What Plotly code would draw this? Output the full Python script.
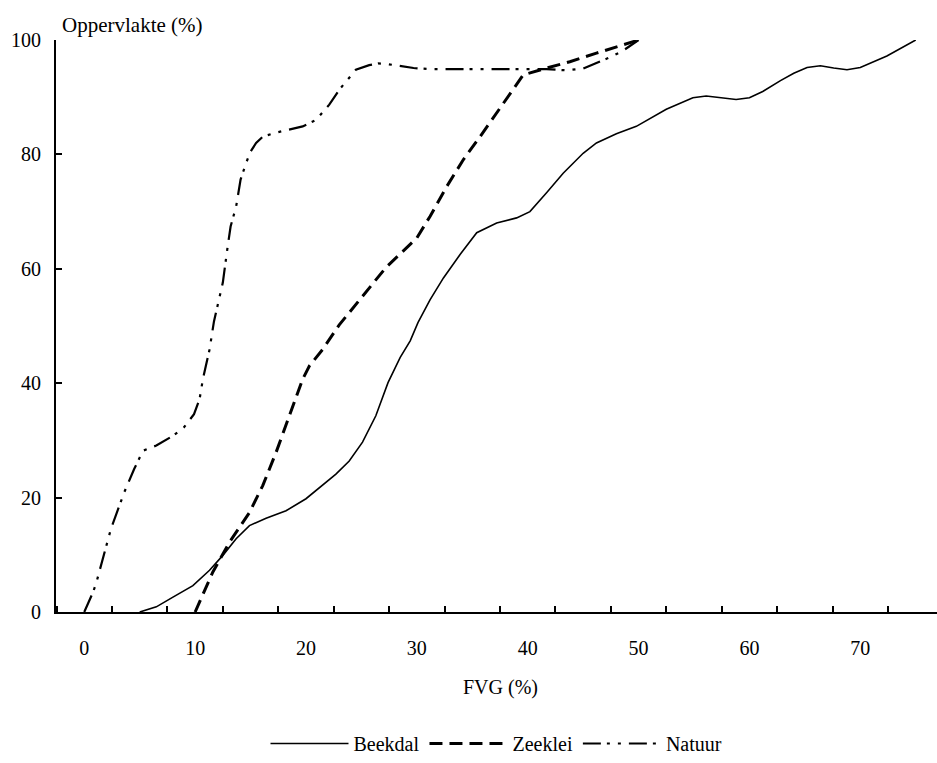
import plotly.graph_objects as go

# Cumulative surface share (%) against FVG (%) for three landscape types
beekdal_x = [5.0, 6.5, 8.0, 9.8, 11.3, 12.5, 13.7, 14.9, 16.4, 18.2, 20.0, 21.5, 22.7, 23.9,
             25.1, 26.3, 27.4, 28.5, 29.4, 30.1, 31.2, 32.4, 33.9, 35.4, 37.2, 39.0, 40.2,
             41.7, 43.2, 45.0, 46.2, 48.0, 49.8, 52.5, 54.9, 56.1, 58.8, 60.0, 61.2, 62.8,
             64.0, 65.2, 66.4, 67.6, 68.8, 70.0, 72.4, 75.0]
beekdal_y = [0.0, 0.9, 2.6, 4.6, 7.3, 9.9, 12.8, 15.1, 16.4, 17.7, 19.8, 22.1, 24.1, 26.4,
             29.7, 34.3, 40.1, 44.5, 47.4, 50.6, 54.6, 58.4, 62.5, 66.3, 68.0, 68.9, 70.0,
             73.3, 76.7, 80.2, 82.0, 83.6, 84.9, 87.9, 89.9, 90.2, 89.6, 89.9, 91.0, 92.9,
             94.2, 95.2, 95.5, 95.1, 94.8, 95.2, 97.2, 100.0]

zeeklei_x = [10.0, 11.6, 13.1, 14.9, 16.1, 17.3, 18.5, 19.7, 20.3, 21.5, 23.0, 25.1, 27.2,
             30.0, 31.2, 32.7, 34.2, 35.7, 37.2, 38.4, 39.6, 41.7, 43.8, 46.2, 50.0]
zeeklei_y = [0.0, 7.0, 12.2, 17.4, 22.1, 27.9, 34.3, 40.7, 43.0, 45.9, 50.2, 55.2, 60.2,
             65.4, 69.2, 74.4, 79.1, 83.1, 87.2, 90.4, 93.9, 95.1, 96.2, 97.7, 100.0]

natuur_x = [0.0, 0.8, 1.1, 2.0, 2.4, 3.6, 4.5, 5.3, 6.5, 8.0, 9.0, 9.9, 10.4, 10.7, 11.3,
            11.7, 12.0, 12.5, 12.9, 13.2, 13.7, 14.1, 14.6, 15.0, 15.5, 16.1, 17.3, 18.5,
            19.7, 20.9, 22.1, 23.0, 23.9, 24.5, 25.7, 26.5, 27.3, 29.7, 31.2, 35.0, 38.0,
            41.7, 43.5, 45.0, 47.2, 48.5, 50.0]
natuur_y = [0.0, 3.5, 5.2, 11.6, 14.5, 20.9, 25.0, 28.2, 29.1, 30.8, 32.3, 34.6, 37.2,
            40.7, 45.9, 50.8, 53.5, 57.6, 63.4, 67.4, 70.9, 75.6, 78.5, 80.5, 82.0, 83.1,
            83.8, 84.3, 84.9, 86.0, 88.7, 91.3, 93.3, 94.8, 95.6, 95.9, 95.8, 95.1, 94.9,
            94.9, 94.9, 94.9, 94.7, 95.0, 96.8, 98.0, 100.0]

x_labels = [0, 10, 20, 30, 40, 50, 60, 70]
x_minor = [-2.5, 2.5, 7.5, 12.5, 17.5, 22.5, 27.5, 32.5, 37.5, 42.5, 47.5, 52.5, 57.5,
           62.5, 67.5, 72.5]
y_labels = [0, 20, 40, 60, 80, 100]

FONT = "Liberation Serif"
SIZE = 20

fig = go.Figure()
fig.add_trace(go.Scatter(x=beekdal_x, y=beekdal_y, mode="lines", name="Beekdal",
                         line=dict(color="black", width=1.6)))
fig.add_trace(go.Scatter(x=zeeklei_x, y=zeeklei_y, mode="lines", name="Zeeklei",
                         line=dict(color="black", width=3, dash="13px,7px")))
fig.add_trace(go.Scatter(x=natuur_x, y=natuur_y, mode="lines", name="Natuur",
                         line=dict(color="black", width=2.2,
                                   dash="18px,6px,3px,8px,3px,8px")))

fig.update_layout(
    width=937, height=763,
    margin=dict(l=56, r=0, t=40, b=150),
    paper_bgcolor="white", plot_bgcolor="white",
    font=dict(family=FONT, size=SIZE, color="black"),
    showlegend=True,
    legend=dict(orientation="h", x=0.5, xanchor="center", y=-0.23, yanchor="middle",
                itemwidth=78, font=dict(family=FONT, size=SIZE), traceorder="normal"),
    xaxis=dict(range=[-2.55, 76.92], tickmode="array", tickvals=x_labels, ticks="",
               showline=True, linecolor="black", linewidth=2, showgrid=False,
               zeroline=False, ticklabelstandoff=17,
               minor=dict(tickmode="array", tickvals=x_minor, ticks="inside",
                          ticklen=6, tickwidth=2, tickcolor="black", showgrid=False)),
    yaxis=dict(range=[0, 100], tickmode="array", tickvals=y_labels, ticks="inside",
               ticklen=6, tickwidth=2, tickcolor="black",
               showline=True, linecolor="black", linewidth=2, showgrid=False,
               zeroline=False, ticklabelstandoff=9),
    annotations=[
        dict(text="Oppervlakte (%)", xref="paper", yref="paper", x=0.004, y=1.026,
             xanchor="left", yanchor="middle", showarrow=False,
             font=dict(family=FONT, size=SIZE + 1)),
        dict(text="FVG (%)", xref="paper", yref="paper", x=0.505, y=-0.132,
             xanchor="center", yanchor="middle", showarrow=False,
             font=dict(family=FONT, size=SIZE)),
    ],
)

fig.write_html("out.html")
